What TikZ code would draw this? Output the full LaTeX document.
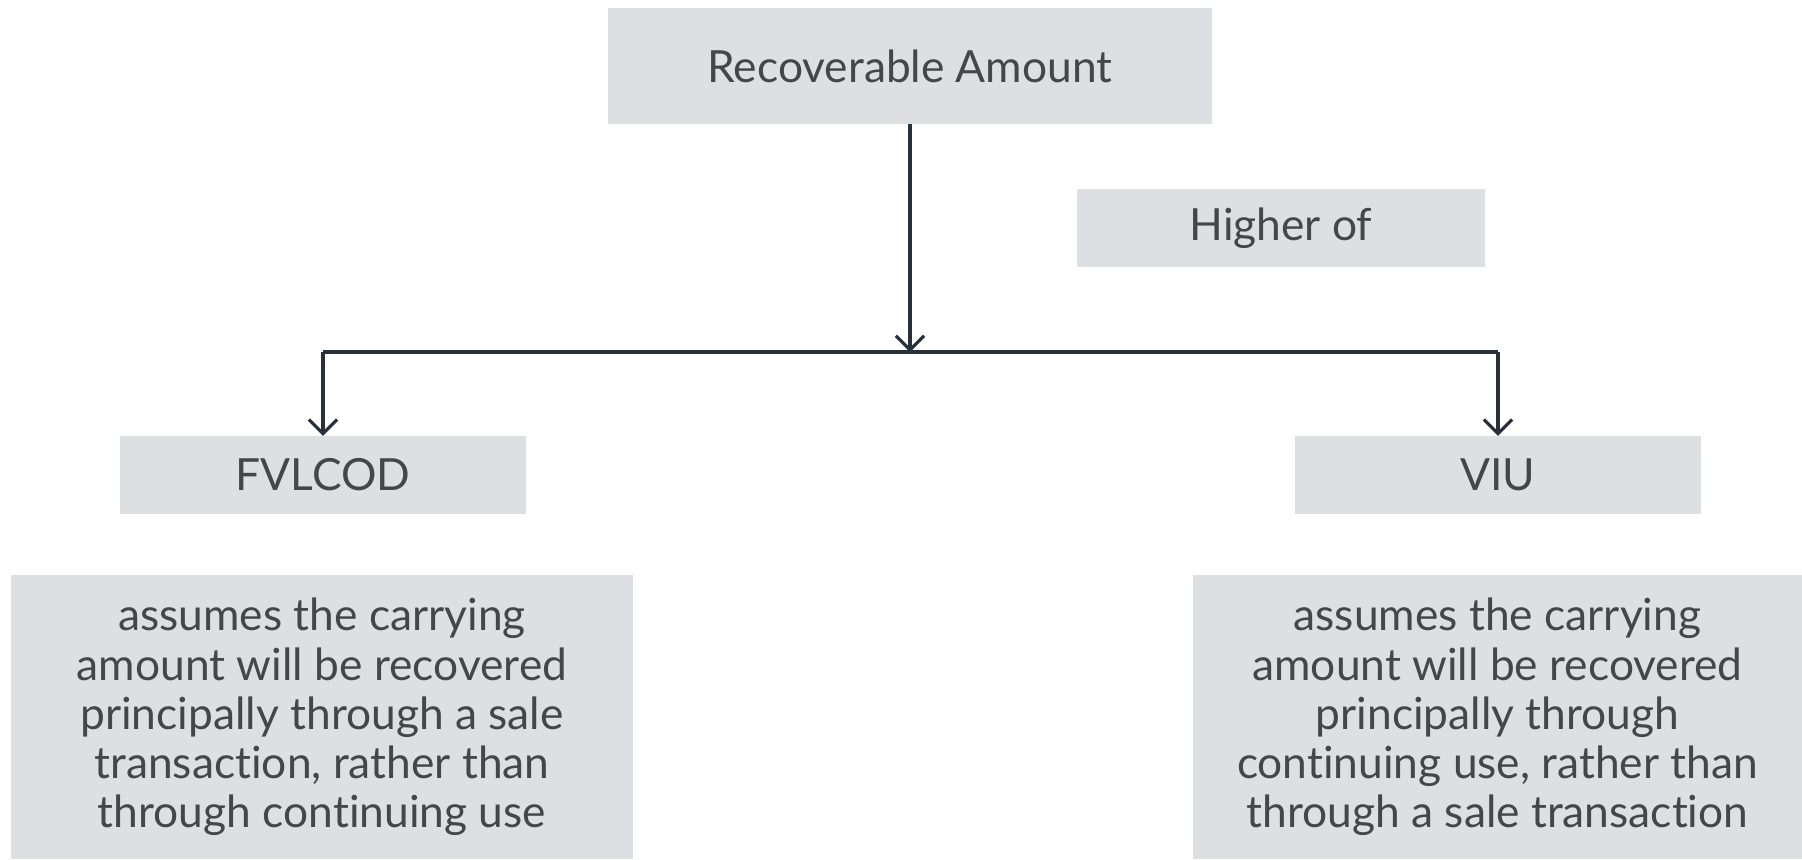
\documentclass[tikz,border=0pt]{standalone}
\usepackage{fontspec}
\setmainfont{Lato}[Ligatures=NoCommon]
\usetikzlibrary{positioning,arrows.meta}
\definecolor{boxgray}{RGB}{221,223,226}
\definecolor{textgray}{RGB}{68,70,74}
\definecolor{linenavy}{RGB}{40,48,60}

\begin{document}
\begin{tikzpicture}[
  x=0.01cm, y=-0.01cm,
  font=\fontsize{12.6}{14}\selectfont,
  box/.style={fill=boxgray, text=textgray, inner sep=0pt, minimum width=4.06cm, minimum height=0.77cm, align=center},
  desc/.style={fill=boxgray, text=textgray, inner sep=0pt, minimum height=2.84cm, align=center},
  arr/.style={-{Straight Barb[length=4pt,width=8pt]}, draw=linenavy, line width=0.9pt},
  link/.style={draw=linenavy, line width=0.9pt},
]
\useasboundingbox (0,0) rectangle (1802,859);

% Top
\node[box, minimum width=6.03cm, minimum height=1.15cm] (recov) at (910,66) {Recoverable Amount};
\node[box, minimum width=4.07cm] (higher) at (1281,228) {Higher of};

% Two measures
\node[box] (fvlcod) at (323,475) {FVLCOD};
\node[box] (viu) at (1498,475) {VIU};

% Descriptions
\node[desc, minimum width=6.22cm] (fvlcoddesc) at (322,717)
  {assumes the carrying\\amount will be recovered\\principally through a sale\\transaction, rather than\\through continuing use};
\node[desc, minimum width=6.09cm] (viudesc) at (1497.5,717)
  {assumes the carrying\\amount will be recovered\\principally through\\continuing use, rather than\\through a sale transaction};

% Arrows
\coordinate (split) at (910,352);
\draw[arr] (recov.south) -- (split);
\draw[link] (fvlcod.north |- split) -- (viu.north |- split);
\draw[arr] (fvlcod.north |- split) -- (fvlcod.north);
\draw[arr] (viu.north |- split) -- (viu.north);

\end{tikzpicture}
\end{document}
